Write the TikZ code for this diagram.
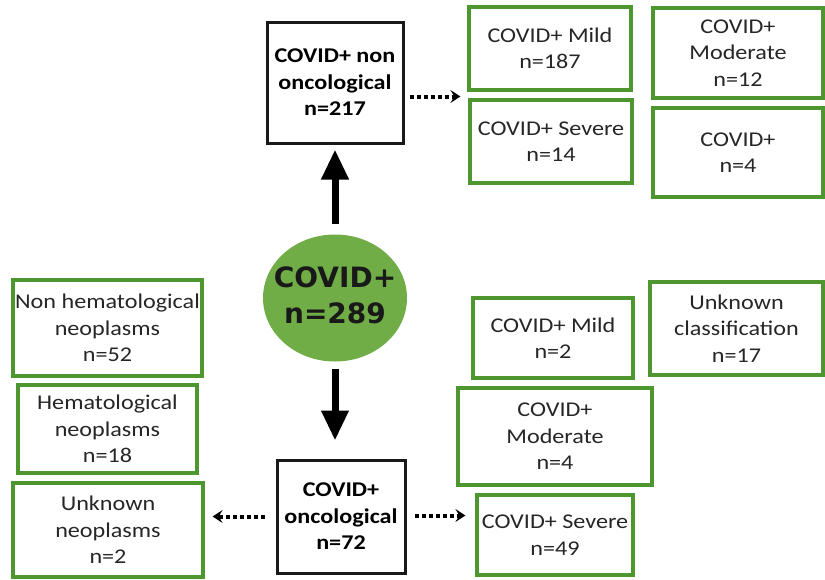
\documentclass[tikz,border=0pt]{standalone}
\usepackage{fontspec}
\setmainfont{Carlito}[FakeStretch=1.15]
\newfontfamily\circfont{DejaVu Sans}
\usetikzlibrary{arrows.meta,calc,shapes.geometric}
\definecolor{boxgreen}{RGB}{78,150,48}
\definecolor{circgreen}{RGB}{112,173,71}
\tikzset{
  gbox/.style={draw=boxgreen,line width=3.2pt,rectangle,align=center,inner sep=2pt,
    font=\fontsize{21}{26.5}\selectfont,text=black!85},
  bbox/.style={draw=black!90,line width=3pt,rectangle,align=center,inner sep=2pt,
    font=\fontsize{21}{26.5}\selectfont\bfseries},
  bigarrow/.style={line width=7pt,-{Triangle[length=30pt,width=26pt]}},
  dotarrow/.style={line width=4pt,dash pattern=on 4pt off 3pt,
    -{Stealth[length=10pt,width=13pt,inset=4pt]}}
}
\begin{document}
\begin{tikzpicture}[x=1pt,y=-1pt]
\useasboundingbox (0,0) rectangle (825,579);
% top branch
\node[bbox,minimum width=136pt,minimum height=121pt] (top) at (335,82.5) {COVID+ non\\oncological\\n=217};
\node[gbox,minimum width=162pt,minimum height=83pt] (mildA) at (550,48.5) {COVID+ Mild\\n=187};
\node[gbox,minimum width=170pt,minimum height=90pt] (modA) at (738,53) {COVID+\\Moderate\\n=12};
\node[gbox,minimum width=162pt,minimum height=83pt] (sevA) at (551,141.5) {COVID+ Severe\\n=14};
\node[gbox,minimum width=170pt,minimum height=89pt] (unkA) at (738,152.5) {COVID+\\n=4};
% centre
\node[ellipse,fill=circgreen,minimum width=144pt,minimum height=127pt,inner sep=0pt,
  align=center,font=\circfont\bfseries\fontsize{28}{36}\selectfont,text=black!90] (all) at (335,298) {};
\node[align=center,font=\circfont\bfseries\fontsize{28}{36}\selectfont,text=black!90,inner sep=0pt]
  (alltext) at ($(all.center)+(0,-3)$) {COVID+\\n=289};
\draw[bigarrow,shorten <=10pt,shorten >=5pt] (all.north) -- (top.south);
\node[bbox,minimum width=128pt,minimum height=113pt] (onc) at (341,516.5) {COVID+\\oncological\\n=72};
\draw[bigarrow,shorten <=7pt,shorten >=18pt] (all.south) -- (all.south |- onc.north);
% bottom left
\node[gbox,minimum width=189pt,minimum height=96pt] (nonhem) at (107.5,328) {Non hematological\\neoplasms\\n=52};
\node[gbox,minimum width=179pt,minimum height=88pt] (hem) at (107.5,429) {Hematological\\neoplasms\\n=18};
\node[gbox,minimum width=190pt,minimum height=94pt] (unkneo) at (108,530) {Unknown\\neoplasms\\n=2};
% bottom right
\node[gbox,minimum width=160pt,minimum height=80pt] (mildB) at (553,338) {COVID+ Mild\\n=2};
\node[gbox,minimum width=173pt,minimum height=93pt] (unkB) at (736.5,328.5) {Unknown\\classification\\n=17};
\node[gbox,minimum width=194pt,minimum height=97pt] (modB) at (555,436.5) {COVID+\\Moderate\\n=4};
\node[gbox,minimum width=156pt,minimum height=80pt] (sevB) at (555,535) {COVID+ Severe\\n=49};
% dotted arrows
\coordinate (ta) at ($(top.east)+(0,14)$);
\draw[dotarrow,shorten <=5pt,shorten >=7pt] (ta) -- (ta -| mildA.west);
\draw[dotarrow,shorten <=11pt,shorten >=8pt] (onc.west) -- (onc.west -| unkneo.east);
\coordinate (ba) at ($(onc.east)+(0,-1)$);
\draw[dotarrow,shorten <=8pt,shorten >=10pt] (ba) -- (ba -| sevB.west);
\end{tikzpicture}
\end{document}
